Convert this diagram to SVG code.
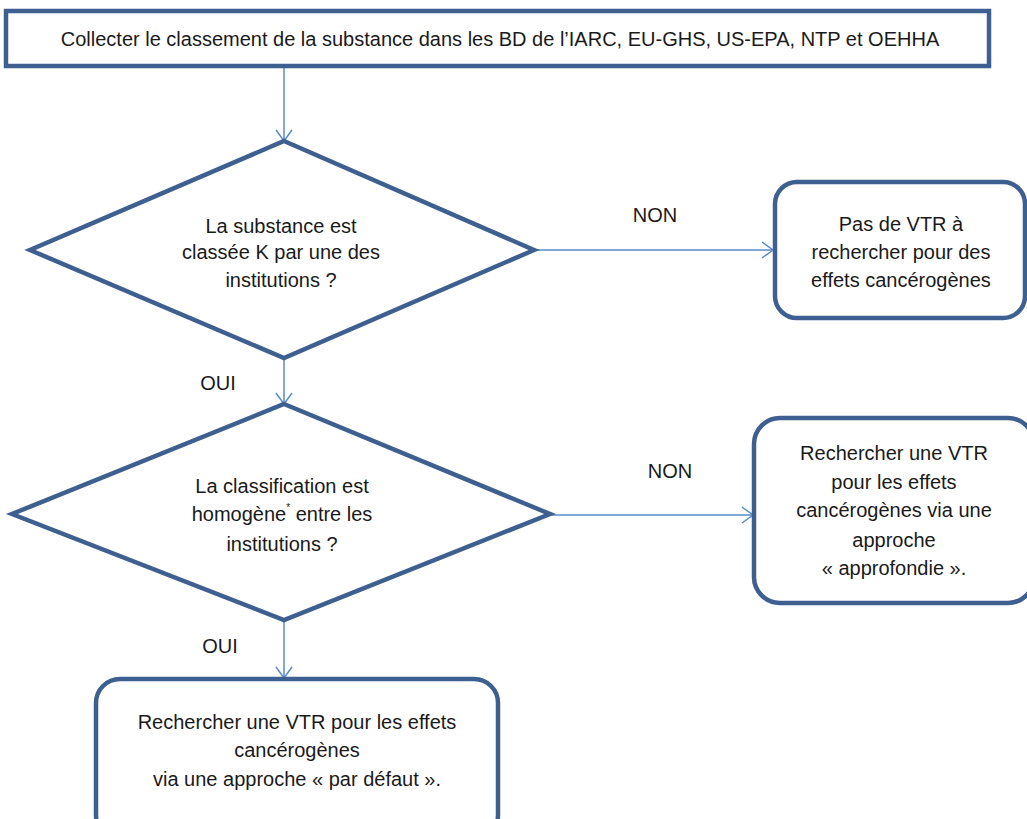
<svg xmlns="http://www.w3.org/2000/svg" width="1027" height="819" viewBox="0 0 1027 819">
<style>
.node{fill:#fff;stroke:#3e6090;stroke-width:4.5;stroke-linejoin:miter}
.conn{fill:none;stroke:#5b8bc9;stroke-width:1.5}
text{font-family:"Liberation Sans",Arial,sans-serif;font-size:20px;fill:#1a1a1a;text-anchor:middle}
</style>
<defs>
<marker id="arr" markerWidth="14" markerHeight="18" refX="12" refY="9" orient="auto" markerUnits="userSpaceOnUse">
<path d="M1,1 L12,9 L1,17" fill="none" stroke="#5b8bc9" stroke-width="1.5"/>
</marker>
</defs>
<g id="connectors">
<line class="conn" x1="284" y1="66" x2="284" y2="141" marker-end="url(#arr)"/>
<line class="conn" x1="534" y1="250" x2="773" y2="250" marker-end="url(#arr)"/>
<line class="conn" x1="284" y1="358" x2="284" y2="404" marker-end="url(#arr)"/>
<line class="conn" x1="550" y1="515" x2="753" y2="515" marker-end="url(#arr)"/>
<line class="conn" x1="284" y1="620" x2="284" y2="678" marker-end="url(#arr)"/>
<text x="655" y="222">NON</text>
<text x="218" y="390">OUI</text>
<text x="670" y="478">NON</text>
<text x="220" y="653">OUI</text>
</g>
<g id="start">
<rect class="node" x="6" y="11" width="983" height="55"/>
<text x="500" y="46">Collecter le classement de la substance dans les BD de l’IARC, EU-GHS, US-EPA, NTP et OEHHA</text>
</g>
<g id="decision1">
<polygon class="node" points="284,141 534,250 284,358 30,250"/>
<text x="281" y="233">La substance est</text>
<text x="281" y="259">classée K par une des</text>
<text x="281" y="287">institutions ?</text>
</g>
<g id="noVTR">
<rect class="node" x="775" y="182" width="250" height="136" rx="22"/>
<text x="901" y="231">Pas de VTR à</text>
<text x="901" y="259">rechercher pour des</text>
<text x="901" y="287">effets cancérogènes</text>
</g>
<g id="decision2">
<polygon class="node" points="284,404 550,514 284,620 12,514"/>
<text x="282" y="493">La classification est</text>
<text x="282" y="521">homogène<tspan font-size="10" dy="-10">*</tspan><tspan dy="10"> entre les</tspan></text>
<text x="282" y="551">institutions ?</text>
</g>
<g id="approfondie">
<rect class="node" x="754" y="418" width="280" height="185" rx="26"/>
<text x="894" y="460">Rechercher une VTR</text>
<text x="894" y="489">pour les effets</text>
<text x="894" y="517">cancérogènes via une</text>
<text x="894" y="547">approche</text>
<text x="894" y="575">« approfondie ».</text>
</g>
<g id="defaut">
<rect class="node" x="96" y="679" width="402" height="160" rx="24"/>
<text x="297" y="729">Rechercher une VTR pour les effets</text>
<text x="297" y="757">cancérogènes</text>
<text x="297" y="786">via une approche « par défaut ».</text>
</g>
</svg>
